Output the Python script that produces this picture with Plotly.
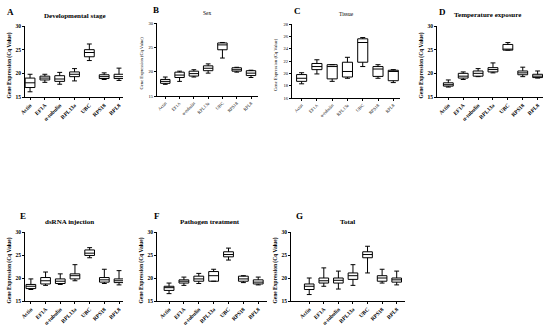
import plotly.graph_objects as go

genes = ["Actin", "EF1A", "α-tubulin", "RPL13a", "UBC", "RPS18", "RPL8"]
panel_letters = ["A", "B", "C", "D", "E", "F", "G"]
panel_titles = ["Developmental stage", "Sex", "Tissue", "Temperature exposure",
                "dsRNA injection", "Pathogen treatment", "Total"]

# box statistics per panel: min, q1, median, q3, max (order follows genes)
dev_min = [16.1, 18.1, 17.7, 18.4, 22.7, 18.7, 18.5]
dev_q1 = [17.0, 18.6, 18.3, 19.3, 23.5, 18.9, 18.9]
dev_med = [18.0, 19.0, 18.8, 19.8, 24.4, 19.3, 19.3]
dev_q3 = [19.0, 19.4, 19.5, 20.3, 25.0, 19.7, 19.8]
dev_max = [19.8, 19.8, 20.2, 21.0, 26.2, 20.1, 21.1]

sex_min = [17.4, 18.0, 18.9, 19.7, 22.8, 19.9, 18.8]
sex_q1 = [17.6, 18.8, 19.1, 20.2, 24.5, 20.1, 19.2]
sex_med = [18.0, 19.3, 19.6, 20.7, 25.5, 20.4, 19.7]
sex_q3 = [18.4, 19.9, 20.1, 21.2, 25.9, 20.8, 20.2]
sex_max = [18.9, 20.1, 20.4, 21.6, 26.0, 20.9, 20.3]

tis_min = [18.3, 19.9, 18.7, 19.2, 21.1, 19.2, 18.5]
tis_q1 = [18.7, 20.6, 19.1, 19.4, 21.8, 19.5, 18.8]
tis_med = [19.2, 21.1, 21.1, 20.3, 25.0, 20.7, 20.3]
tis_q3 = [19.8, 21.6, 21.4, 21.8, 25.6, 21.1, 20.5]
tis_max = [20.1, 22.2, 21.4, 22.6, 25.8, 21.4, 20.6]

tmp_min = [17.1, 18.7, 19.3, 20.1, 24.9, 19.3, 19.0]
tmp_q1 = [17.3, 19.0, 19.4, 20.3, 24.9, 19.7, 19.1]
tmp_med = [17.6, 19.4, 20.0, 20.8, 25.1, 20.1, 19.4]
tmp_q3 = [18.0, 20.0, 20.5, 21.2, 26.1, 20.5, 19.8]
tmp_max = [18.6, 20.3, 21.0, 22.2, 26.5, 21.3, 20.5]

ds_min = [17.5, 18.4, 18.6, 19.4, 24.4, 18.8, 18.5]
ds_q1 = [17.7, 18.7, 18.8, 19.8, 24.9, 19.1, 19.0]
ds_med = [18.2, 19.4, 19.3, 20.5, 25.4, 19.6, 19.4]
ds_q3 = [18.6, 20.1, 19.8, 20.9, 26.1, 20.1, 19.8]
ds_max = [19.8, 21.3, 20.9, 22.9, 26.6, 21.9, 21.6]

pat_min = [16.6, 18.4, 18.8, 19.3, 23.9, 19.0, 18.5]
pat_q1 = [17.3, 18.9, 19.3, 19.3, 24.6, 19.3, 18.7]
pat_med = [17.9, 19.3, 19.8, 20.5, 25.1, 19.8, 19.1]
pat_q3 = [18.2, 19.6, 20.4, 21.4, 25.7, 20.4, 19.6]
pat_max = [18.9, 20.2, 21.0, 21.9, 26.5, 20.5, 20.2]

tot_min = [16.4, 18.2, 17.6, 18.4, 21.1, 18.9, 18.5]
tot_q1 = [17.5, 18.9, 18.9, 19.7, 24.4, 19.3, 19.1]
tot_med = [18.2, 19.4, 19.5, 20.5, 25.1, 20.0, 19.6]
tot_q3 = [18.7, 20.0, 20.0, 21.1, 25.7, 20.5, 20.0]
tot_max = [20.0, 22.2, 21.5, 22.9, 26.9, 21.9, 21.5]

stats = [
    (dev_min, dev_q1, dev_med, dev_q3, dev_max),
    (sex_min, sex_q1, sex_med, sex_q3, sex_max),
    (tis_min, tis_q1, tis_med, tis_q3, tis_max),
    (tmp_min, tmp_q1, tmp_med, tmp_q3, tmp_max),
    (ds_min, ds_q1, ds_med, ds_q3, ds_max),
    (pat_min, pat_q1, pat_med, pat_q3, pat_max),
    (tot_min, tot_q1, tot_med, tot_q3, tot_max),
]

y_ranges = [[15, 30], [15, 30], [16, 28], [15, 30], [15, 30], [15, 30], [15, 30]]
y_ticks = [[15, 20, 25, 30], [15, 20, 25, 30], [16, 18, 20, 22, 24, 26, 28],
           [15, 20, 25, 30], [15, 20, 25, 30], [15, 20, 25, 30], [15, 20, 25, 30]]

W, H = 550, 326
# pixel layout of plot areas: (x0, x1, ytop, ybottom)
boxes_px = [
    (25, 123, 26, 97),
    (157, 258, 23, 96),
    (292, 400, 24, 98),
    (437, 543, 26, 97),
    (25, 123, 232, 301),
    (157, 267, 232, 301),
    (291, 405, 232, 301),
]
x_ranges = [[-0.34, 6.27], [-0.58, 6.49], [-0.63, 6.44], [-0.76, 6.36],
            [-0.40, 6.27], [-0.81, 6.59], [-1.25, 6.57]]
bold = [True, False, False, True, True, True, True]
letter_px = [(5, 12), (151, 10), (292, 11), (437, 12), (18, 216), (152, 216), (294, 216)]
title_px = [(75, 16), (207, 13), (346, 14), (487, 15), (69, 222), (210, 222), (347, 222)]

FONT = "Liberation Serif"
fig = go.Figure()
annotations = []
for i in range(7):
    mn, q1, md, q3, mx = stats[i]
    ax = "" if i == 0 else str(i + 1)
    fig.add_trace(go.Box(
        x=list(range(7)), lowerfence=mn, q1=q1, median=md, q3=q3, upperfence=mx,
        xaxis="x" + ax, yaxis="y" + ax,
        fillcolor="white", line=dict(color="black", width=1),
        width=0.66, whiskerwidth=0.5, boxpoints=False, showlegend=False,
        hoverinfo="skip",
    ))
    x0, x1, yt, yb = boxes_px[i]
    fsz = 5.5 if bold[i] else 4.5
    tickfont = dict(family=FONT, size=fsz, color="black")
    fig.update_layout(**{
        "xaxis" + ax: dict(
            domain=[x0 / W, x1 / W], anchor="y" + ax, range=x_ranges[i],
            tickvals=list(range(7)),
            ticktext=[("<b>%s</b>" % g) if bold[i] else g for g in genes],
            tickangle=-45, showline=True, linecolor="black", linewidth=1,
            ticks="outside", ticklen=2, tickcolor="black", showgrid=False,
            zeroline=False, tickfont=tickfont, fixedrange=True, automargin=False,
        ),
        "yaxis" + ax: dict(
            domain=[1 - yb / H, 1 - yt / H], anchor="x" + ax, range=y_ranges[i],
            tickvals=y_ticks[i],
            ticktext=[("<b>%d</b>" % v) if bold[i] else str(v) for v in y_ticks[i]],
            showline=True, linecolor="black", linewidth=1,
            ticks="outside", ticklen=2, tickcolor="black", showgrid=False,
            zeroline=False, tickfont=tickfont, fixedrange=True, automargin=False,
        ),
    })
    lx, ly = letter_px[i]
    annotations.append(dict(
        x=lx / W, y=1 - ly / H, xref="paper", yref="paper", showarrow=False,
        text="<b>%s</b>" % panel_letters[i], xanchor="left", yanchor="middle",
        font=dict(family=FONT, size=9, color="black")))
    tx, ty = title_px[i]
    annotations.append(dict(
        x=tx / W, y=1 - ty / H, xref="paper", yref="paper", showarrow=False,
        text=("<b>%s</b>" % panel_titles[i]) if bold[i] else panel_titles[i],
        xanchor="center", yanchor="middle",
        font=dict(family=FONT, size=7 if bold[i] else 5.5, color="black")))
    annotations.append(dict(
        x=(x0 - 16) / W, y=1 - ((yt + yb) / 2 + 4) / H, xref="paper", yref="paper",
        showarrow=False, textangle=-90,
        text="<b>Gene Expression (Cq Value)</b>" if bold[i] else "Gene Expression (Cq Value)",
        xanchor="center", yanchor="middle",
        font=dict(family=FONT, size=5.5 if bold[i] else 4.6, color="black")))

fig.update_layout(
    width=W, height=H, margin=dict(l=0, r=0, t=0, b=0),
    paper_bgcolor="white", plot_bgcolor="white",
    annotations=annotations, showlegend=False,
)
fig.write_html(
    "out.html",
    config={"displayModeBar": False},
    post_script="document.body.style.margin='0';document.body.style.overflow='hidden';",
)
